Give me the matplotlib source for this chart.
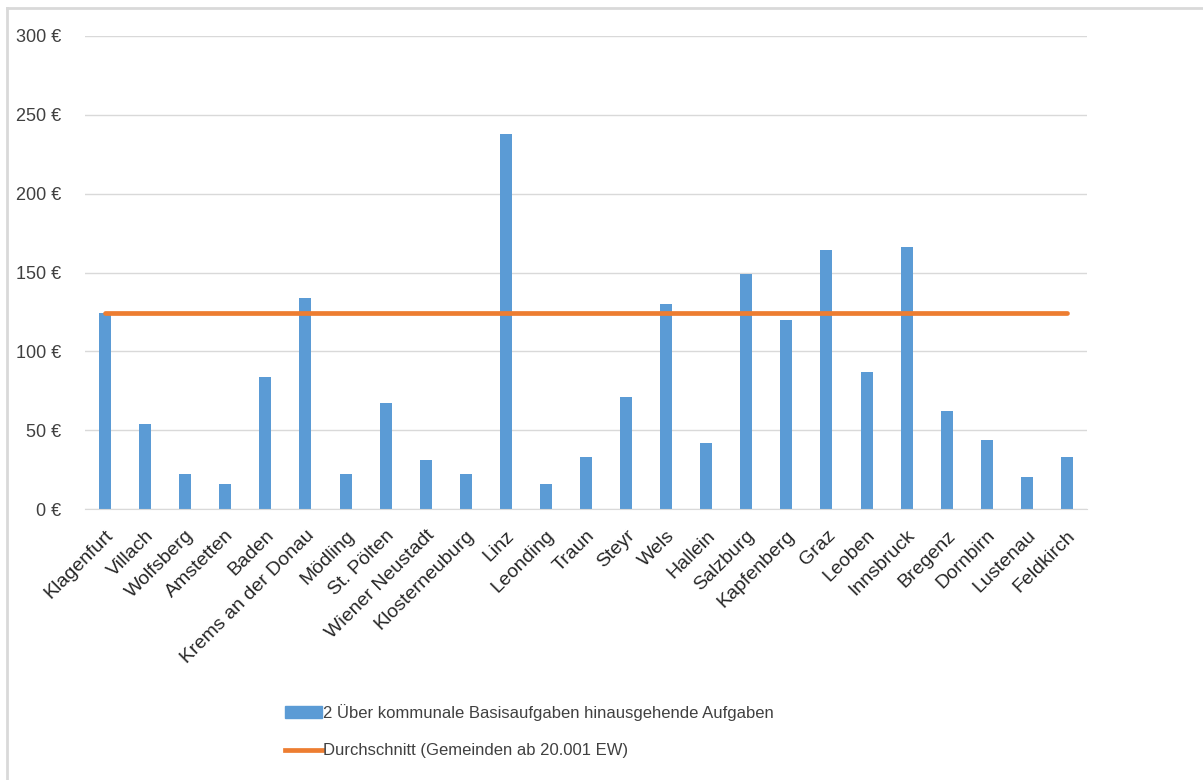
import matplotlib.pyplot as plt
from matplotlib.lines import Line2D
from matplotlib.patches import Patch
import numpy as np

plt.rcParams['font.family'] = ['Liberation Sans', 'DejaVu Sans']
plt.rcParams['font.size'] = 12

# Gemeinden (x axis)
cities = ["Klagenfurt", "Villach", "Wolfsberg", "Amstetten", "Baden",
          "Krems an der Donau", "Mödling", "St. Pölten", "Wiener Neustadt",
          "Klosterneuburg", "Linz", "Leonding", "Traun", "Steyr", "Wels",
          "Hallein", "Salzburg", "Kapfenberg", "Graz", "Leoben", "Innsbruck",
          "Bregenz", "Dornbirn", "Lustenau", "Feldkirch"]

# Euro pro Einwohner
aufgaben = [124, 54, 22, 16, 84, 134, 22, 67, 31, 22, 238, 16, 33, 71, 130,
            42, 149, 120, 164, 87, 166, 62, 44, 20, 33]
durchschnitt = 124

yticks = [0, 50, 100, 150, 200, 250, 300]

BLUE = "#5B9BD5"
ORANGE = "#ED7D31"
GRID = "#D9D9D9"
TEXT = "#404040"

fig = plt.figure(figsize=(12.03, 7.8), dpi=100)
ax = fig.add_axes([85/1203, 1 - 509/780, (1087 - 85)/1203, (509 - 36)/780])

x = np.arange(len(cities))
ax.bar(x, aufgaben, width=0.3, color=BLUE, zorder=2)
ax.plot(x, [durchschnitt] * len(x), color=ORANGE, lw=3.4, solid_capstyle='round', zorder=3)

ax.set_xlim(-0.5, len(cities) - 0.5)
ax.set_ylim(0, 300)
ax.set_yticks(yticks)
ax.set_yticklabels([f"{v} €" for v in yticks], color=TEXT, fontsize=13)
ax.yaxis.grid(True, color=GRID, lw=1, zorder=0)
ax.set_axisbelow(True)

ax.set_xticks(x)
ax.set_xticklabels(cities, rotation=45, ha='right', rotation_mode='anchor',
                   color='#262626', fontsize=14)
ax.tick_params(axis='x', length=0, pad=13)
ax.tick_params(axis='y', length=0, pad=17)

for side in ['top', 'right', 'left']:
    ax.spines[side].set_visible(False)
ax.spines['bottom'].set_color(GRID)

handles = [Patch(color=BLUE), Line2D([0], [0], color=ORANGE, lw=3.4)]
labels = ["2 Über kommunale Basisaufgaben hinausgehende Aufgaben",
          "Durchschnitt (Gemeinden ab 20.001 EW)"]
leg = fig.legend(handles, labels, loc='upper left', bbox_to_anchor=(285/1203, 1 - 704/780),
                 frameon=False, borderpad=0, borderaxespad=0, fontsize=12,
                 handlelength=2.2, handletextpad=0.1, labelspacing=1.35)
for t in leg.get_texts():
    t.set_color(TEXT)

# chart frame
fig.add_artist(Line2D([7/1203, 1], [1 - 8/780] * 2, color=GRID, lw=2, transform=fig.transFigure))
fig.add_artist(Line2D([7/1203] * 2, [0, 1 - 8/780], color=GRID, lw=2, transform=fig.transFigure))

fig.savefig("out.png", dpi=100)
